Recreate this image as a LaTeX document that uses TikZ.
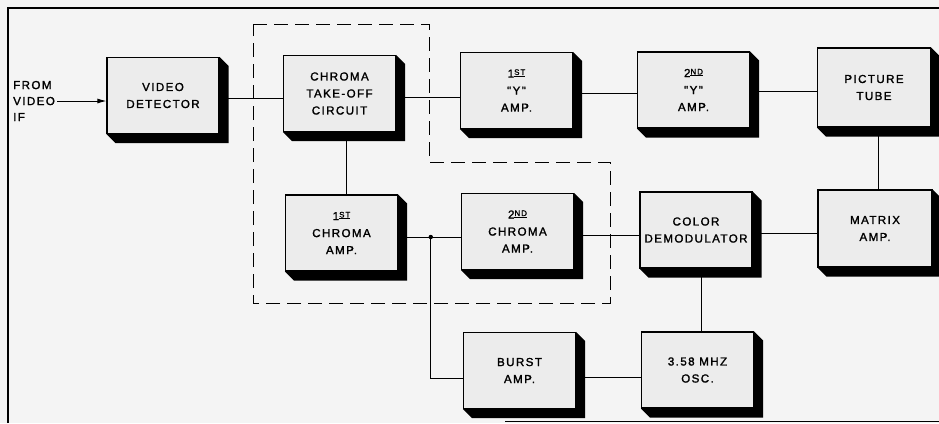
\documentclass[tikz,border=0pt]{standalone}
\usepackage{fontspec}
\usetikzlibrary{calc,arrows.meta}
\newfontfamily\lab[LetterSpace=12,FakeBold=1.6]{Liberation Sans}
\newcommand\ordsx[1]{\raisebox{2.6pt}{\fontsize{8}{8}\selectfont\setbox0\hbox{#1}\rlap{\rule[-1.8pt]{\wd0}{0.8pt}}\box0}}
\definecolor{bgc}{RGB}{244,244,244}
\definecolor{facec}{RGB}{236,236,236}
\tikzset{
  blk/.style={draw, line width=1.1pt, fill=facec, minimum width=112pt, minimum height=76pt,
    inner sep=0pt, align=center, font=\lab\fontsize{11.6}{17}\selectfont},
  wire/.style={line width=1pt},
  grp/.style={line width=1pt, dash pattern=on 14pt off 7pt},
  framel/.style={line width=1.2pt},
}
\begin{document}
\begin{tikzpicture}[x=1pt,y=-1pt]
\useasboundingbox (0,0) rectangle (939,423);
\fill[bgc] (0,0) rectangle (939,423);
% frame
\draw[framel] (8,423) -- (8,8) -- (939,8);
\draw[framel] (505,421.5) -- (939,421.5);
% blocks
\node[blk] (vd) at (163,95.5) {VIDEO\\DETECTOR};
\node[blk] (cto) at (339.5,93.5) {CHROMA\\TAKE-OFF\\CIRCUIT};
\node[blk] (y1) at (516.5,90.5) {1\ordsx{ST}\\"Y"\\AMP.};
\node[blk] (y2) at (693.5,90) {2\ordsx{ND}\\"Y"\\AMP.};
\node[blk, minimum width=113pt, minimum height=79pt] (pt) at (874,87.5) {PICTURE\\TUBE};
\node[blk] (ca1) at (341.5,233) {1\ordsx{ST}\\CHROMA\\AMP.};
\node[blk] (ca2) at (517.5,231.5) {2\ordsx{ND}\\CHROMA\\AMP.};
\node[blk] (cd) at (696,230) {COLOR\\DEMODULATOR};
\node[blk, minimum width=114pt, minimum height=77pt] (ma) at (875,228.5) {MATRIX\\AMP.};
\node[blk] (ba) at (519.5,370.5) {BURST\\AMP.};
\node[blk] (osc) at (697.5,370) {3.58 MHZ\\OSC.};
% input label
\node[font=\lab\fontsize{11.6}{16}\selectfont, align=left, anchor=west, inner sep=0pt] (src) at (13,101) {FROM\\VIDEO\\IF};
\draw[wire, -{Latex[length=9pt,width=5pt]}] ([xshift=2pt]src.east) -- (src.east -| vd.west);
% connectors
\draw[wire] ([yshift=-3pt]vd.east) -- ([yshift=-3pt]vd.east -| cto.west);
\draw[wire] ([yshift=-3.5pt]cto.east) -- ([yshift=-3.5pt]cto.east -| y1.west);
\draw[wire] ([yshift=-2.5pt]y1.east) -- ([yshift=-2.5pt]y1.east -| y2.west);
\draw[wire] ([yshift=-1pt]y2.east) -- ([yshift=-1pt]y2.east -| pt.west);
\draw[wire] ([xshift=6.5pt]cto.south) -- ([xshift=6.5pt]cto.south |- ca1.north);
\draw[wire] ([xshift=4pt]pt.south) -- ([xshift=4pt]pt.south |- ma.north);
\coordinate (j) at ($([yshift=-4pt]ca1.east)!0.52!([yshift=-4pt]ca1.east -| ca2.west)$);
\draw[wire] ([yshift=-4pt]ca1.east) -- ([yshift=-4pt]ca1.east -| ca2.west);
\draw[wire] (j) |- ([yshift=-7.5pt]ba.west);
\draw[wire] ([yshift=-3.5pt]ca2.east) -- ([yshift=-3.5pt]ca2.east -| cd.west);
\draw[wire] ([yshift=-3pt]cd.east) -- ([yshift=-3pt]cd.east -| ma.west);
\draw[wire] ([xshift=5pt]cd.south) -- ([xshift=5pt]cd.south |- osc.north);
\draw[wire] ([yshift=-6.5pt]ba.east) -- ([yshift=-6.5pt]ba.east -| osc.west);
\fill (j) circle (2.2pt);
% shadows
\foreach \n in {vd,cto,y1,y2,pt,ca1,ca2,cd,ma,ba,osc}
  \fill (\n.north east) -- ++(9,9) -- ($(\n.south east)+(9,9)$) -- ($(\n.south west)+(9,9)$)
        -- (\n.south west) -- (\n.south east) -- cycle;
% dashed group
\draw[grp] (253,24) -- (429,24) -- (429,162) -- (610,162) -- (610,303) -- (253,303) -- cycle;
\end{tikzpicture}
\end{document}
